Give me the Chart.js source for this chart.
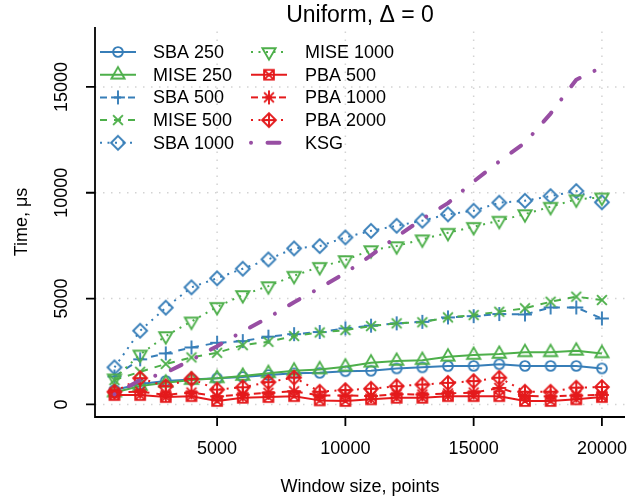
<!DOCTYPE html>
<html>
<head>
<meta charset="utf-8">
<script src="https://cdn.jsdelivr.net/npm/chart.js@4/dist/chart.umd.min.js"></script>
<style>
  html, body { margin: 0; padding: 0; background: #ffffff; }
  canvas { display: block; }
</style>
</head>
<body>
<canvas id="chart" width="641" height="503"></canvas>
<script>
// ---- data -----------------------------------------------------------
const windowSizes = [1000, 2000, 3000, 4000, 5000, 6000, 7000, 8000, 9000, 10000,
                     11000, 12000, 13000, 14000, 15000, 16000, 17000, 18000, 19000, 20000];

const sba250   = [680, 960, 1110, 1180, 1230, 1300, 1390, 1470, 1490, 1570,
                  1590, 1700, 1750, 1810, 1820, 1900, 1820, 1820, 1820, 1700];
const mise250  = [560, 870, 1020, 1150, 1230, 1340, 1470, 1590, 1650, 1780,
                  1970, 2050, 2090, 2250, 2330, 2380, 2460, 2460, 2530, 2410];
const sba500   = [1320, 2130, 2410, 2690, 2910, 2990, 3200, 3320, 3420, 3590,
                  3720, 3830, 3900, 4110, 4170, 4270, 4250, 4580, 4580, 4060];
const mise500  = [1150, 1540, 1910, 2220, 2440, 2800, 2960, 3230, 3400, 3510,
                  3700, 3830, 3880, 4110, 4220, 4380, 4540, 4850, 5090, 4930];
const sba1000  = [1750, 3480, 4570, 5530, 5960, 6410, 6850, 7370, 7480, 7890,
                  8200, 8440, 8680, 8980, 9150, 9530, 9620, 9840, 10080, 9550];
const mise1000 = [1230, 2360, 3230, 3920, 4610, 5170, 5590, 6080, 6500, 6820,
                  7290, 7480, 7800, 8110, 8390, 8680, 8990, 9340, 9690, 9780];
const pba500   = [440, 440, 345, 390, 160, 310, 345, 390, 190, 160,
                  240, 310, 310, 390, 390, 390, 160, 160, 240, 345];
const pba1000  = [560, 600, 450, 560, 380, 460, 550, 620, 420, 420,
                  400, 480, 470, 520, 560, 780, 400, 380, 420, 450];
const pba2000  = [600, 1240, 860, 1210, 700, 810, 1050, 1270, 600, 680,
                  740, 860, 940, 1020, 1100, 1260, 600, 600, 790, 820];
const ksg      = [480, 1150, 1500, 2100, 2750, 3450, 4100, 4830, 5500, 6210,
                  7040, 7920, 8760, 9510, 10530, 11480, 12360, 13740, 15340, 15930];

const seriesLabels = ['SBA 250', 'MISE 250', 'SBA 500', 'MISE 500', 'SBA 1000',
                      'MISE 1000', 'PBA 500', 'PBA 1000', 'PBA 2000', 'KSG'];

const xTickValues = [5000, 10000, 15000, 20000];
const yTickValues = [0, 5000, 10000, 15000];

const chartTitle = 'Uniform, \u0394 = 0';
const xAxisTitle = 'Window size, points';
const yAxisTitle = 'Time, \u03bcs';

// ---- styling ----------------------------------------------------------
const BLUE = '#377EB8', GREEN = '#4DAF4A', RED = '#E41A1C', PURPLE = '#984EA3';
const SOLID = [], DASHED = [7, 7], DOTTED = [2, 5.5], DOTDASH = [0.01, 16.5, 12, 16.5];
const FONT = '"Liberation Sans", Arial, Helvetica, sans-serif';

// Plot-symbol shapes in the spirit of classic pch 1..9
function makeSymbol(kind, color) {
  const r = 4.9, lw = 1.9, S = 24;
  const c = document.createElement('canvas');
  c.width = S; c.height = S;
  const g = c.getContext('2d');
  g.translate(S / 2, S / 2);
  g.strokeStyle = color;
  g.lineWidth = lw;
  g.lineJoin = 'miter';
  g.beginPath();
  const a = Math.SQRT2 * r;
  const R = 1.555 * r, xc = 1.347 * r, yc = 0.778 * r;
  switch (kind) {
    case 'circle':
      g.arc(0, 0, r, 0, Math.PI * 2);
      break;
    case 'triUp':
      g.moveTo(0, -R); g.lineTo(xc, yc); g.lineTo(-xc, yc); g.closePath();
      break;
    case 'triDown':
      g.moveTo(0, R); g.lineTo(xc, -yc); g.lineTo(-xc, -yc); g.closePath();
      break;
    case 'plus':
      g.moveTo(-a, 0); g.lineTo(a, 0); g.moveTo(0, -a); g.lineTo(0, a);
      break;
    case 'cross':
      g.moveTo(-r, -r); g.lineTo(r, r); g.moveTo(-r, r); g.lineTo(r, -r);
      break;
    case 'diamond':
      g.moveTo(0, -a); g.lineTo(a, 0); g.lineTo(0, a); g.lineTo(-a, 0); g.closePath();
      break;
    case 'squareCross':
      g.rect(-r, -r, 2 * r, 2 * r);
      g.moveTo(-r, -r); g.lineTo(r, r); g.moveTo(-r, r); g.lineTo(r, -r);
      break;
    case 'asterisk':
      g.moveTo(-r, -r); g.lineTo(r, r); g.moveTo(-r, r); g.lineTo(r, -r);
      g.moveTo(-a, 0); g.lineTo(a, 0); g.moveTo(0, -a); g.lineTo(0, a);
      break;
    case 'diamondPlus':
      g.moveTo(0, -a); g.lineTo(a, 0); g.lineTo(0, a); g.lineTo(-a, 0); g.closePath();
      g.moveTo(-a, 0); g.lineTo(a, 0); g.moveTo(0, -a); g.lineTo(0, a);
      break;
  }
  g.stroke();
  return c;
}

const seriesValues = [sba250, mise250, sba500, mise500, sba1000, mise1000, pba500, pba1000, pba2000, ksg];
const seriesStyle = [
  { color: BLUE,   dash: SOLID,   sym: 'circle',      width: 2 },
  { color: GREEN,  dash: SOLID,   sym: 'triUp',       width: 2 },
  { color: BLUE,   dash: DASHED,  sym: 'plus',        width: 2 },
  { color: GREEN,  dash: DASHED,  sym: 'cross',       width: 2 },
  { color: BLUE,   dash: DOTTED,  sym: 'diamond',     width: 2 },
  { color: GREEN,  dash: DOTTED,  sym: 'triDown',     width: 2 },
  { color: RED,    dash: SOLID,   sym: 'squareCross', width: 2 },
  { color: RED,    dash: DASHED,  sym: 'asterisk',    width: 2 },
  { color: RED,    dash: DOTTED,  sym: 'diamondPlus', width: 2 },
  { color: PURPLE, dash: DOTDASH, sym: null,          width: 4 }
];

const datasets = seriesValues.map((vals, i) => {
  const st = seriesStyle[i];
  return {
    label: seriesLabels[i],
    data: vals.map((v, k) => ({ x: windowSizes[k], y: v })),
    borderColor: st.color,
    backgroundColor: 'transparent',
    borderWidth: st.width,
    borderDash: st.dash,
    borderCapStyle: st.sym ? 'butt' : 'round',
    borderJoinStyle: 'round',
    tension: 0,
    pointStyle: st.sym ? makeSymbol(st.sym, st.color) : 'circle',
    pointRadius: st.sym ? 5 : 0,
    order: seriesValues.length - 1 - i
  };
});

// ---- frame: grid, axes, labels, legend ---------------------------------
const framePlugin = {
  id: 'frame',
  beforeDatasetsDraw(chart) {
    const { ctx, chartArea: a, scales: { x, y } } = chart;
    ctx.save();
    ctx.strokeStyle = '#d3d3d3';
    ctx.lineWidth = 1.5;
    ctx.setLineDash([1.5, 6.5]);
    xTickValues.forEach(v => {
      const px = x.getPixelForValue(v);
      ctx.beginPath(); ctx.moveTo(px, a.bottom); ctx.lineTo(px, a.top); ctx.stroke();
    });
    yTickValues.forEach(v => {
      const py = y.getPixelForValue(v);
      ctx.beginPath(); ctx.moveTo(a.left, py); ctx.lineTo(a.right, py); ctx.stroke();
    });
    ctx.restore();
  },
  afterDraw(chart) {
    const { ctx, chartArea: a, scales: { x, y } } = chart;
    ctx.save();
    ctx.strokeStyle = '#000';
    ctx.fillStyle = '#000';
    ctx.lineWidth = 1.8;
    ctx.setLineDash([]);
    ctx.lineCap = 'butt';
    // axis lines (L-shaped frame)
    ctx.beginPath();
    ctx.moveTo(a.left, a.top); ctx.lineTo(a.left, a.bottom); ctx.lineTo(a.right, a.bottom);
    ctx.stroke();
    // tick marks
    const tick = 9;
    ctx.beginPath();
    xTickValues.forEach(v => {
      const px = x.getPixelForValue(v);
      ctx.moveTo(px, a.bottom); ctx.lineTo(px, a.bottom + tick);
    });
    yTickValues.forEach(v => {
      const py = y.getPixelForValue(v);
      ctx.moveTo(a.left, py); ctx.lineTo(a.left - tick, py);
    });
    ctx.stroke();
    // tick labels
    ctx.font = '18px ' + FONT;
    ctx.textAlign = 'center';
    ctx.textBaseline = 'middle';
    xTickValues.forEach(v => {
      ctx.fillText(String(v), x.getPixelForValue(v), a.bottom + 32);
    });
    yTickValues.forEach(v => {
      ctx.save();
      ctx.translate(a.left - 33, y.getPixelForValue(v));
      ctx.rotate(-Math.PI / 2);
      ctx.fillText(String(v), 0, 0);
      ctx.restore();
    });
    // axis titles
    const cx = (a.left + a.right) / 2, cy = (a.top + a.bottom) / 2;
    ctx.fillText(xAxisTitle, cx, a.bottom + 70);
    ctx.save();
    ctx.translate(a.left - 73, cy);
    ctx.rotate(-Math.PI / 2);
    ctx.fillText(yAxisTitle, 0, 0);
    ctx.restore();
    // main title
    ctx.font = '23px ' + FONT;
    ctx.fillText(chartTitle, cx, 16);

    // legend: two columns of five entries
    const cols = [{ x0: 100, x1: 136, tx: 153 }, { x0: 251, x1: 287, tx: 305 }];
    const rowTop = 52, rowStep = 22.7;
    chart.data.datasets.forEach((ds, i) => {
      const col = cols[Math.floor(i / 5)];
      const ry = rowTop + (i % 5) * rowStep;
      ctx.save();
      ctx.strokeStyle = ds.borderColor;
      ctx.lineWidth = ds.borderWidth;
      ctx.lineCap = ds.borderCapStyle;
      ctx.setLineDash(ds.borderDash);
      ctx.beginPath(); ctx.moveTo(col.x0, ry); ctx.lineTo(col.x1, ry); ctx.stroke();
      ctx.restore();
      if (ds.pointRadius > 0 && ds.pointStyle instanceof HTMLCanvasElement) {
        const img = ds.pointStyle, mx = (col.x0 + col.x1) / 2;
        ctx.drawImage(img, mx - img.width / 2, ry - img.height / 2);
      }
      ctx.font = '18px ' + FONT;
      ctx.textAlign = 'left';
      ctx.fillStyle = '#000';
      ctx.fillText(ds.label, col.tx, ry + 1);
    });
    ctx.restore();
  }
};

new Chart(document.getElementById('chart'), {
  type: 'line',
  data: { datasets },
  options: {
    responsive: false,
    devicePixelRatio: 1,
    animation: false,
    events: [],
    layout: { padding: { left: 95, right: 16, top: 27, bottom: 86 } },
    scales: {
      x: { type: 'linear', min: 240, max: 20900, display: false },
      y: { type: 'linear', min: -595, max: 17830, display: false }
    },
    plugins: {
      legend: { display: false },
      tooltip: { enabled: false },
      title: { display: false }
    }
  },
  plugins: [framePlugin]
});
</script>
</body>
</html>
